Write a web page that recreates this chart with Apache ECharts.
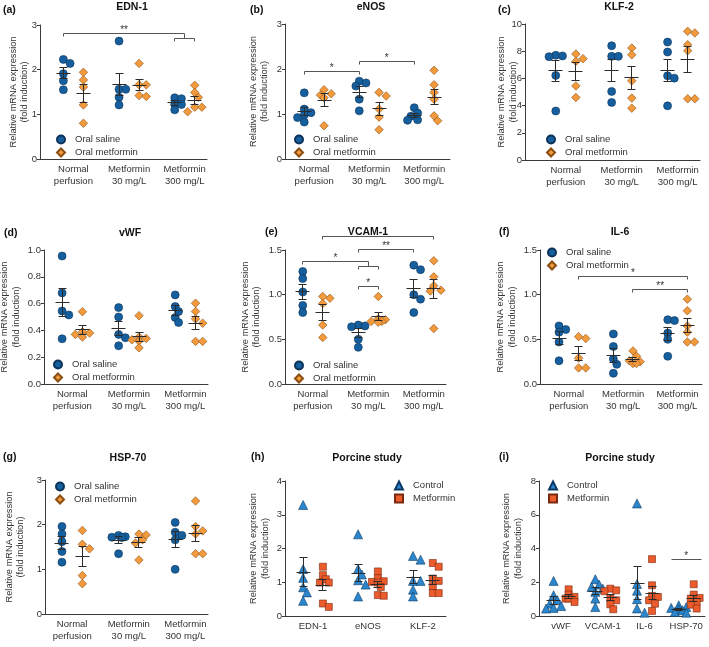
<!DOCTYPE html>
<html><head><meta charset="utf-8">
<script src="https://cdn.jsdelivr.net/npm/echarts@6/dist/echarts.min.js"></script>
<style>html,body{margin:0;padding:0;background:#fff}#c{width:709px;height:647px}</style>
</head><body><div id="c"></div>
<script>
// ---------------- DATA ----------------
const ratGroups = ['Normal\nperfusion', 'Metformin\n30 mg/L', 'Metformin\n300 mg/L'];
const porcineGroupsH = ['EDN-1', 'eNOS', 'KLF-2'];
const porcineGroupsI = ['vWF', 'VCAM-1', 'IL-6', 'HSP-70'];
const ratNames = ['Oral saline', 'Oral metformin'];
const pigNames = ['Control', 'Metformin'];
const yAxisTitle = 'Relative mRNA expression\n(fold induction)';

const edn1Saline    = [[2.23,2.14,1.91,1.75,1.55],[2.64,1.56,1.56,1.38,1.21],[1.37,1.35,1.23,1.22,1.10]];
const edn1Metformin = [[1.94,1.77,1.61,1.21,0.80],[2.14,1.66,1.66,1.42,1.40],[1.65,1.49,1.38,1.16,1.16,1.06]];

const enosSaline    = [[1.47,1.11,1.03,0.98,0.92,0.82],[1.73,1.69,1.62,1.33,1.07],[1.14,1.02,0.95,0.87,0.86]];
const enosMetformin = [[1.54,1.45,1.42,1.36,0.74],[1.48,1.40,1.11,0.93,0.65],[1.97,1.65,1.48,1.33,0.96,0.85]];

const klf2Saline    = [[7.70,7.65,7.60,6.22,3.60],[8.40,7.62,7.62,5.04,4.23],[8.67,7.94,6.19,6.02,3.98]];
const klf2Metformin = [[7.79,7.45,7.25,5.45,4.60],[8.23,7.74,5.82,4.55,3.81],[9.46,9.34,8.48,8.03,4.50,4.50]];

const vwfSaline     = [[0.955,0.68,0.545,0.515,0.337],[0.57,0.50,0.37,0.345,0.285],[0.665,0.578,0.541,0.496,0.459]];
const vwfMetformin  = [[0.54,0.39,0.38,0.37,0.35],[0.51,0.35,0.34,0.33,0.32,0.27],[0.603,0.541,0.486,0.454,0.318,0.318]];

const vcamSaline    = [[1.26,1.18,1.03,0.88,0.80],[0.66,0.65,0.64,0.50,0.41],[1.33,1.28,1.00,0.95,0.80]];
const vcamMetformin = [[0.98,0.96,0.90,0.66,0.52],[0.98,0.73,0.72,0.70,0.70,0.69],[1.38,1.20,1.10,1.05,1.04,0.62]];

const il6Saline     = [[0.65,0.61,0.58,0.47,0.26],[0.56,0.42,0.28,0.22,0.12],[0.72,0.71,0.57,0.50,0.31]];
const il6Metformin  = [[0.53,0.51,0.29,0.18,0.18],[0.37,0.31,0.26,0.25,0.23,0.23],[0.95,0.82,0.65,0.58,0.47,0.47]];

const hspSaline     = [[1.96,1.79,1.62,1.40,1.16],[1.76,1.73,1.72,1.71,1.35],[2.05,1.83,1.76,1.66,1.00]];
const hspMetformin  = [[1.87,1.56,1.46,0.86,0.68],[1.79,1.77,1.66,1.59,1.21],[2.53,1.96,1.86,1.79,1.35,1.35]];

const pigHControl   = [[3.29,1.39,1.13,0.85,0.70,0.45],[2.42,1.39,1.23,1.06,0.93,0.58],[1.78,1.67,1.04,1.04,0.78,0.58]];
const pigHMetformin = [[1.46,1.21,1.09,0.99,0.99,0.37,0.27],[1.32,1.12,1.03,1.01,0.99,0.86,0.62,0.60],[1.57,1.46,1.11,1.04,0.88,0.68,0.68]];

const pigIControl   = [[2.08,1.23,0.93,0.73,0.59,0.48,0.44],[2.18,1.86,1.72,1.62,1.43,1.03,0.53],[6.67,1.90,1.50,1.00,0.45,0.20],[0.63,0.53,0.48,0.40,0.34,0.24,0.20]];
const pigIMetformin = [[1.58,1.27,1.13,1.03,1.03,0.83],[1.62,1.52,1.47,1.03,0.93,0.69,0.40],[3.37,1.82,1.19,1.13,0.93,0.73,0.30],[1.88,1.27,1.07,1.03,0.83,0.67,0.44]];

// significance comparisons: [group, side] endpoints, y level (data units)
const edn1Brackets = [
  {from:[0,-1], to:[2,0], y:2.81, text:'**', rightTo:2.69},
  {from:[2,-1], to:[2,1], y:2.69, text:''}
];
const enosBrackets = [
  {from:[0,-1], to:[1,-1], y:1.95, text:'*'},
  {from:[1,-1], to:[2,-1], y:2.17, text:'*'}
];
const vcamBrackets = [
  {from:[0,1], to:[2,1], y:1.65, text:''},
  {from:[1,-1], to:[2,-1], y:1.507, text:'**'},
  {from:[0,-1], to:[1,0], y:1.37, text:'*', rightTo:1.31},
  {from:[1,-1], to:[1,1], y:1.31, text:''},
  {from:[1,-1], to:[1,1], y:1.09, text:'*'}
];
const il6Brackets = [
  {from:[0,1], to:[2,1], y:1.20, text:'*'},
  {from:[1,1], to:[2,1], y:1.06, text:'**'}
];
const pigIBrackets = [
  {from:[3,-2], to:[3,2], y:3.35, text:'*', ticks:false}
];

// ---------------- STYLE / LAYOUT ----------------
const FONT = 'Arial, "Liberation Sans", Helvetica, sans-serif';
const SIDE = 0.18;
const TXT = '#333';
const AX = '#3a3a3a';
const ratStyle = [
  {symbol:'circle', size:8, color:'#165f9f', border:'#0c3357'},
  {symbol:'diamond', size:8.5, color:'#f29a3c', border:'#8a4d12'}
];
const pigStyle = [
  {symbol:'triangle', size:9, color:'#2b86cc', border:'#0c3a66'},
  {symbol:'rect', size:7, color:'#ec5b2c', border:'#7a2a10'}
];

const panels = [
  {letter:'(a)', title:'EDN-1', a:edn1Saline, b:edn1Metformin, cats:ratGroups, names:ratNames, sty:ratStyle, ymax:3, interval:1, dec:0, br:edn1Brackets,
   L:{left:40, top:25, width:167, height:134, xmin:-0.6, xmax:2.4, nx:19, tx:132, ty:7, lx:3, ly:10, gx:56, gy:134.5}},
  {letter:'(b)', title:'eNOS', a:enosSaline, b:enosMetformin, cats:ratGroups, names:ratNames, sty:ratStyle, ymax:3, interval:1, dec:0, br:enosBrackets,
   L:{left:285, top:24, width:165, height:135, xmin:-0.53, xmax:2.47, nx:259, tx:371, ty:7, lx:250, ly:10, gx:294, gy:134.5}},
  {letter:'(c)', title:'KLF-2', a:klf2Saline, b:klf2Metformin, cats:ratGroups, names:ratNames, sty:ratStyle, ymax:10, interval:2, dec:0, br:[],
   L:{left:525, top:24, width:175, height:136, xmin:-0.73, xmax:2.4, nx:507.5, tx:619, ty:7, lx:498, ly:10, gx:546, gy:134.5}},
  {letter:'(d)', title:'vWF', a:vwfSaline, b:vwfMetformin, cats:ratGroups, names:ratNames, sty:ratStyle, ymax:1, interval:0.2, dec:1, br:[],
   L:{left:44, top:250, width:164, height:134, xmin:-0.5, xmax:2.4, nx:10.5, tx:130, ty:233, lx:4, ly:233, gx:53, gy:359.5}},
  {letter:'(e)', title:'VCAM-1', a:vcamSaline, b:vcamMetformin, cats:ratGroups, names:ratNames, sty:ratStyle, ymax:1.5, interval:0.5, dec:1, br:vcamBrackets,
   L:{left:285, top:250, width:161, height:134, xmin:-0.5, xmax:2.4, nx:251, tx:368, ty:232, lx:265, ly:232, gx:294, gy:360.5}},
  {letter:'(f)', title:'IL-6', a:il6Saline, b:il6Metformin, cats:ratGroups, names:ratNames, sty:ratStyle, ymax:1.5, interval:0.5, dec:1, br:il6Brackets,
   L:{left:540, top:250, width:162, height:134, xmin:-0.53, xmax:2.45, nx:506.5, tx:620, ty:232, lx:499, ly:232, gx:547, gy:247.5}},
  {letter:'(g)', title:'HSP-70', a:hspSaline, b:hspMetformin, cats:ratGroups, names:ratNames, sty:ratStyle, ymax:3, interval:1, dec:0, br:[],
   L:{left:45, top:480, width:163, height:134, xmin:-0.48, xmax:2.4, nx:15, tx:128, ty:458, lx:3, ly:457, gx:55, gy:481.5}},
  {letter:'(h)', title:'Porcine study', a:pigHControl, b:pigHMetformin, cats:porcineGroupsH, names:pigNames, sty:pigStyle, ymax:4, interval:1, dec:0, br:[],
   L:{left:285, top:481, width:161, height:135, xmin:-0.51, xmax:2.42, nx:259.5, tx:367, ty:458, lx:251, ly:457, gx:394, gy:480.5}},
  {letter:'(i)', title:'Porcine study', a:pigIControl, b:pigIMetformin, cats:porcineGroupsI, names:pigNames, sty:pigStyle, ymax:8, interval:2, dec:0, br:pigIBrackets,
   L:{left:539, top:481, width:166, height:135, xmin:-0.53, xmax:3.45, nx:512.5, tx:620, ty:458, lx:499, ly:457, gx:548, gy:480.5}}
];

// ---------------- HELPERS ----------------
function meanSem(v) {
  const n = v.length, m = v.reduce((s, x) => s + x, 0) / n;
  const sd = Math.sqrt(v.reduce((s, x) => s + (x - m) * (x - m), 0) / (n - 1));
  return [m, sd / Math.sqrt(n)];
}
// compact deterministic beeswarm in pixel space (limited spread, overlap allowed)
function swarm(values, center, pxX, pxY, d) {
  const order = values.map((v, i) => i).sort((p, q) => values[q] - values[p]);
  const placed = [], out = new Array(values.length);
  const cands = [0, 1, -1, 2, -2].map(k => k * d * 0.42);
  order.forEach(i => {
    const py = values[i] * pxY;
    let best = 0, bestScore = -1;
    for (const c of cands) {
      const md = placed.length ? Math.min(...placed.map(p => Math.hypot(p.x - c, p.y - py))) : 1e9;
      if (md >= d * 0.7) { best = c; bestScore = 1e9; break; }
      if (md > bestScore + 1) { bestScore = md; best = c; }
    }
    placed.push({x: best, y: py});
    out[i] = [center + best / pxX, values[i]];
  });
  return out;
}
const crisp = v => Math.round(v - 0.5) + 0.5;
function ln(x1, y1, x2, y2, color) {
  return {type:'line', shape:{x1:crisp(x1), y1:crisp(y1), x2:crisp(x2), y2:crisp(y2)}, style:{stroke:color || '#2b2b2b', lineWidth:1}};
}
function statsRender(params, api) {
  const x = api.value(0), m = api.value(1), s = api.value(2);
  const c = api.coord([x, m]), t = api.coord([x, m + s]), b = api.coord([x, m - s]);
  return {type:'group', children:[
    ln(c[0] - 7, c[1], c[0] + 7, c[1]),
    ln(c[0], t[1], c[0], b[1]),
    ln(c[0] - 4, t[1], c[0] + 4, t[1]),
    ln(c[0] - 4, b[1], c[0] + 4, b[1])
  ]};
}
function bracketRender(list) {
  return function (params, api) {
    const b = list[params.dataIndex];
    const x1 = b.from[0] + b.from[1] * SIDE, x2 = b.to[0] + b.to[1] * SIDE;
    const p1 = api.coord([x1, b.y]), p2 = api.coord([x2, b.y]);
    const col = '#555';
    const ch = [ln(p1[0], p1[1], p2[0], p2[1], col)];
    if (b.ticks !== false) {
      const ly = b.leftTo != null ? api.coord([x1, b.leftTo])[1] : p1[1] + 3;
      const ry = b.rightTo != null ? api.coord([x2, b.rightTo])[1] : p2[1] + 3;
      ch.push(ln(p1[0], p1[1], p1[0], ly, col), ln(p2[0], p2[1], p2[0], ry, col));
    }
    if (b.text) ch.push({type:'text', x:(p1[0] + p2[0]) / 2, y:p1[1] - 8.5,
      style:{text:b.text, font:'10px ' + FONT, fill:'#333', align:'center', verticalAlign:'top', textAlign:'center', textVerticalAlign:'top'}});
    return {type:'group', children:ch};
  };
}

// ---------------- OPTION ----------------
const grid = [], xAxis = [], yAxis = [], series = [], legend = [], graphic = [];
panels.forEach((p, i) => {
  const L = p.L;
  grid.push({left:L.left, top:L.top, width:L.width, height:L.height, containLabel:false});
  const idx = p.cats.map((c, k) => k);
  xAxis.push({type:'value', gridIndex:i, min:L.xmin, max:L.xmax,
    axisLine:{show:true, onZero:false, lineStyle:{color:AX, width:1}},
    axisTick:{show:false}, splitLine:{show:false},
    axisLabel:{customValues:idx, formatter:v => p.cats[Math.round(v)] || '', fontSize:9.5, fontFamily:FONT, color:TXT, lineHeight:11.5, margin:5}});
  yAxis.push({type:'value', gridIndex:i, min:0, max:p.ymax, interval:p.interval,
    axisLine:{show:true, onZero:false, lineStyle:{color:AX, width:1}},
    axisTick:{show:true, length:3, lineStyle:{color:AX}}, splitLine:{show:false},
    axisLabel:{fontSize:9.5, fontFamily:FONT, color:TXT, margin:3, formatter:v => v.toFixed(p.dec)}});
  const pxX = L.width / (L.xmax - L.xmin), pxY = L.height / p.ymax;
  [p.a, p.b].forEach((sets, sIdx) => {
    const st = p.sty[sIdx], sign = sIdx === 0 ? -1 : 1;
    const pts = [], stats = [];
    sets.forEach((vals, g) => {
      const cx = g + sign * SIDE;
      swarm(vals, cx, pxX, pxY, st.size).forEach(q => pts.push(q));
      const ms = meanSem(vals);
      stats.push([cx, ms[0], ms[1]]);
    });
    series.push({type:'scatter', name:p.names[sIdx], xAxisIndex:i, yAxisIndex:i, data:pts,
      symbol:st.symbol, symbolSize:st.size, clip:false, z:2, silent:true,
      itemStyle:{color:st.color, borderColor:st.border, borderWidth:0.6, opacity:1}});
    series.push({type:'custom', name:'stats' + i + '_' + sIdx, xAxisIndex:i, yAxisIndex:i, data:stats,
      encode:{x:0, y:1}, renderItem:statsRender, z:5, silent:true});
  });
  if (p.br.length) {
    series.push({type:'custom', name:'sig' + i, xAxisIndex:i, yAxisIndex:i,
      data:p.br.map(b => [b.from[0], b.y]), encode:{x:0, y:1}, renderItem:bracketRender(p.br), z:6, silent:true, clip:false});
  }
  legend.push({data:p.names, left:L.gx, top:L.gy, orient:'vertical', itemWidth:8, itemHeight:8, itemGap:3, padding:0,
    selectedMode:false, textStyle:{fontSize:9.5, fontFamily:FONT, color:TXT, padding:[0, 0, 0, 5]}});
  graphic.push({type:'text', x:L.tx, y:L.ty, silent:true,
    style:{text:p.title, font:'bold 10.5px ' + FONT, fill:'#111', align:'center', verticalAlign:'middle', textAlign:'center', textVerticalAlign:'middle'}});
  graphic.push({type:'text', x:L.lx, y:L.ly, silent:true,
    style:{text:p.letter, font:'bold 10.5px ' + FONT, fill:'#111', align:'left', verticalAlign:'middle', textAlign:'left', textVerticalAlign:'middle'}});
  graphic.push({type:'text', x:L.nx, y:L.top + L.height / 2, rotation:Math.PI / 2, silent:true,
    style:{text:yAxisTitle, font:'9.3px ' + FONT, fill:TXT, lineHeight:11.5, align:'center', verticalAlign:'middle', textAlign:'center', textVerticalAlign:'middle'}});
});

const chart = echarts.init(document.getElementById('c'), null, {renderer:'canvas'});
chart.setOption({animation:false, backgroundColor:'#fff', textStyle:{fontFamily:FONT},
  grid, xAxis, yAxis, series, legend, graphic});
</script></body></html>
